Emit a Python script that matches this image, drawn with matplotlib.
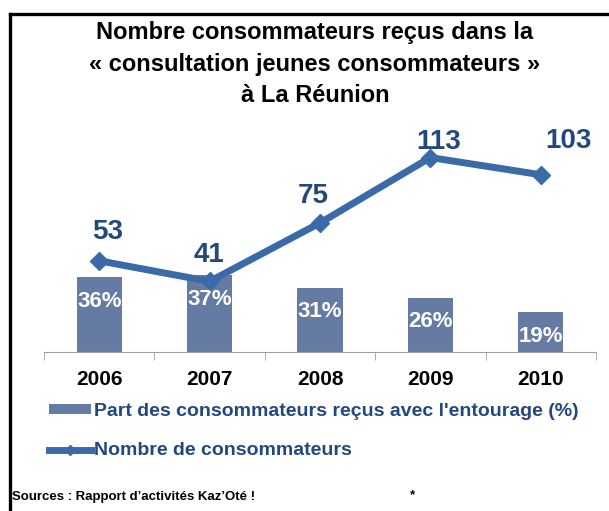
import numpy as np
import matplotlib
matplotlib.use("Agg")
import matplotlib.pyplot as plt
from matplotlib.lines import Line2D

plt.rcParams['font.family'] = ['Liberation Sans', 'DejaVu Sans']

# donnees
annees = ["2006", "2007", "2008", "2009", "2010"]
part_entourage = [36, 37, 31, 26, 19]      # %
nb_consommateurs = [53, 41, 75, 113, 103]

# decalage des etiquettes de la courbe (px)
decal_labels = [(8, 29), (-1, 26), (-7, 27), (8, 16), (28, 34)]

col_barre = "#667ba4"
col_ligne = "#3a6aa8"
col_texte = "#23487e"

fig = plt.figure(figsize=(6.09, 5.11), dpi=100)
ax = fig.add_axes([44/609, 1-352/511, 552/609, 222/511])
ax2 = ax.twinx()

x = np.arange(len(annees))
barres = ax.bar(x, part_entourage, width=0.41, color=col_barre, zorder=2,
                label="Part des consommateurs reçus avec l'entourage (%)")
for xi, v in zip(x, part_entourage):
    ax.annotate(str(v) + "%", (xi, v), xytext=(0, -24), textcoords="offset pixels",
                ha="center", va="center", color="white", fontsize=16, fontweight="bold")

ligne, = ax2.plot(x, nb_consommateurs, color=col_ligne, lw=5, marker="D", ms=9,
                  mfc=col_ligne, mec=col_ligne, label="Nombre de consommateurs")
for xi, v, (dx, dy) in zip(x, nb_consommateurs, decal_labels):
    ax2.annotate(str(v), (xi, v), xytext=(dx, dy), textcoords="offset pixels",
                 ha="center", va="center", color=col_texte, fontsize=20, fontweight="bold")

ax.set_xlim(-0.5, 4.5)
ax.set_ylim(0, 106.7)
ax2.set_ylim(0, 129)
for a in (ax, ax2):
    for s in ["top", "right", "left"]:
        a.spines[s].set_visible(False)
    a.set_yticks([])
ax.spines["bottom"].set_color("#a0a0a0")
ax2.spines["bottom"].set_visible(False)
ax.set_xticks(x)
ax.set_xticklabels(annees, fontsize=15, fontweight="bold")
ax.tick_params(axis="x", which="major", length=0, pad=13)
ax.set_xticks(np.arange(-0.5, 5, 1), minor=True)
ax.tick_params(axis="x", which="minor", length=6, color="#a0a0a0", direction="out")

# titre
titre = ["Nombre consommateurs reçus dans la",
         "« consultation jeunes consommateurs »",
         "à La Réunion"]
for i, t in enumerate(titre):
    fig.text(315/609, 1-(33+31.5*i)/511, t, ha="center", va="center",
             fontsize=17, fontweight="bold", color="black")

# legende
leg = fig.legend([barres, ligne], [barres.get_label(), ligne.get_label()],
                 loc="upper left", bbox_to_anchor=(49/609, 1-403/511), frameon=False,
                 fontsize=14, handlelength=2.15, handleheight=0.35, handletextpad=0.15,
                 labelspacing=1.15, borderpad=0, borderaxespad=0)
for t in leg.get_texts():
    t.set_color(col_texte)
    t.set_fontweight("bold")
leg.legend_handles[1].set_markersize(5)
leg.legend_handles[1].set_linewidth(5)

fig.text(12/609, 1-497/511, "Sources : Rapport d\u2019activités Kaz\u2019Oté !",
         ha="left", va="center", fontsize=9.5, fontweight="bold")
fig.text(410/609, 1-495/511, "*", ha="left", va="center", fontsize=9.5, fontweight="bold")

# cadre
fig.add_artist(Line2D([9.5/609, 1], [1-14.5/511, 1-14.5/511], color="black", lw=2.4))
fig.add_artist(Line2D([9.5/609, 9.5/609], [0, 1-14.5/511], color="black", lw=2.4))

fig.savefig("out.png", dpi=100)
